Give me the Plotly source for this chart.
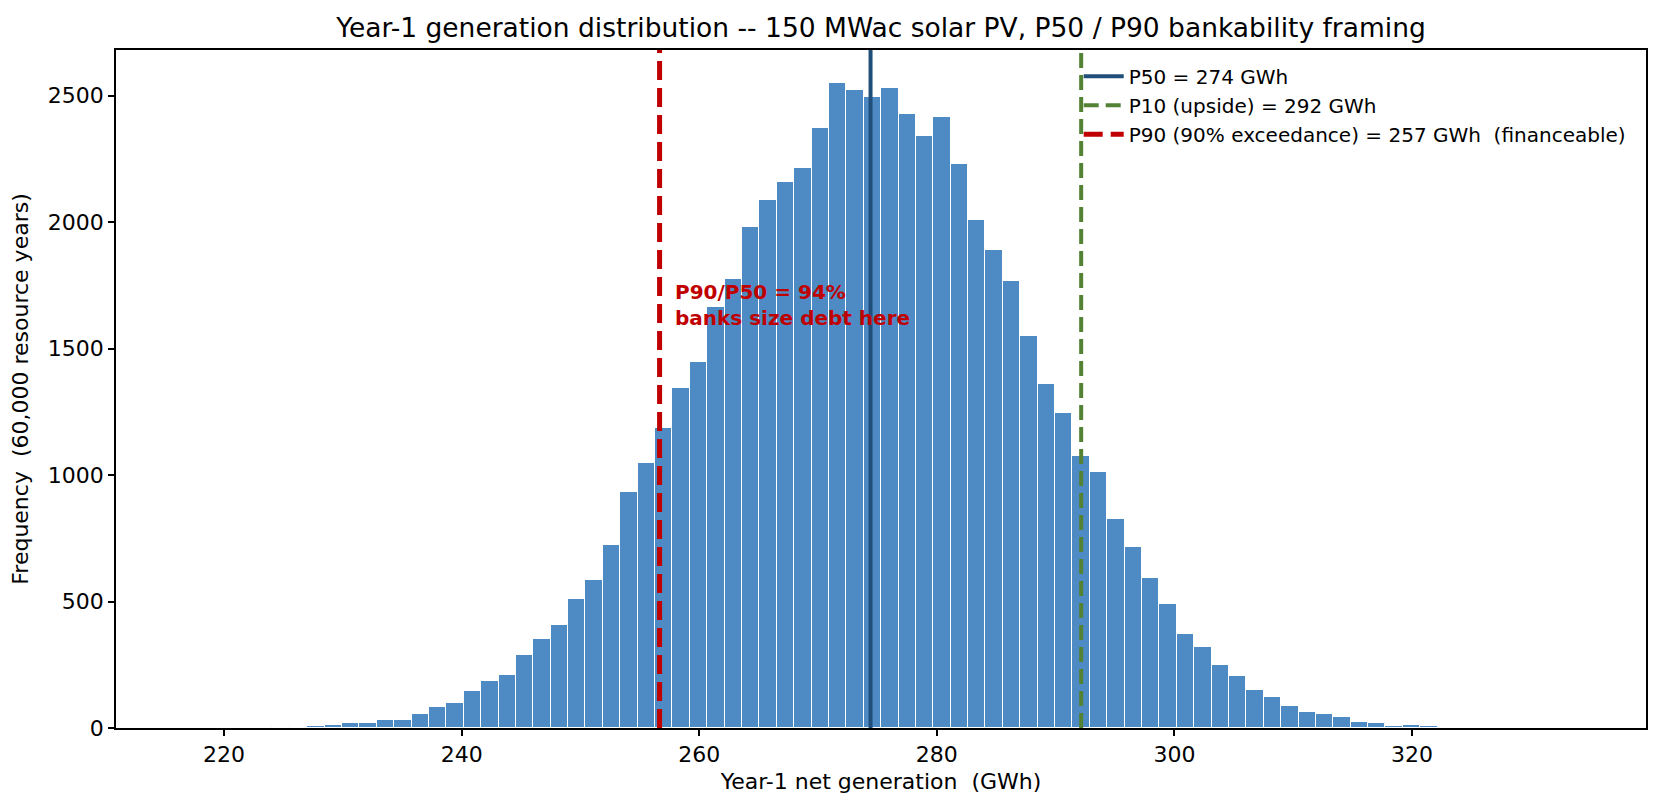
import numpy as np
import plotly.graph_objects as go

# histogram of year-1 net generation, 80 bins
bin_start = 216.75
bin_width = 1.464
counts = [1, 0, 0, 1, 1, 4, 2, 7, 10, 20,
          20, 30, 30, 55, 83, 98, 145, 185, 208, 288,
          350, 408, 508, 587, 722, 934, 1047, 1187, 1344, 1448,
          1665, 1776, 1981, 2086, 2157, 2212, 2372, 2549, 2521, 2493,
          2528, 2427, 2341, 2416, 2230, 2008, 1888, 1766, 1549, 1360,
          1246, 1077, 1013, 828, 717, 591, 489, 370, 319, 248,
          207, 152, 122, 86, 63, 54, 42, 22, 19, 6,
          10, 6, 2, 1, 1, 0, 0, 1, 0, 1]

p50 = 274.42
p10 = 292.15
p90 = 256.66

x_range = [210.9, 339.7]
y_top = 2680

centers = bin_start + bin_width * (np.arange(len(counts)) + 0.5)

fig = go.Figure()
fig.add_trace(go.Bar(x=centers, y=counts, width=bin_width,
                     marker=dict(color="#4e8bc4", line=dict(color="white", width=1)),
                     showlegend=False, hoverinfo="x+y"))

fig.add_trace(go.Scatter(x=[p50, p50], y=[0, y_top], mode="lines",
                         line=dict(color="#1f4e79", width=4),
                         name=f"P50 = {p50:.0f} GWh"))
fig.add_trace(go.Scatter(x=[p10, p10], y=[0, y_top], mode="lines",
                         line=dict(color="#548235", width=4, dash="15px,7px"),
                         name=f"P10 (upside) = {p10:.0f} GWh"))
fig.add_trace(go.Scatter(x=[p90, p90], y=[0, y_top], mode="lines",
                         line=dict(color="#c00000", width=5, dash="19px,8px"),
                         name=f"P90 (90% exceedance) = {p90:.0f} GWh \u00a0(financeable)"))

fig.add_annotation(x=p90 + 1.1, y=1674, xanchor="left", yanchor="middle",
                   text=f"<b>P90/P50 = {p90 / p50 * 100:.0f}%<br>banks size debt here</b>",
                   showarrow=False, align="left",
                   font=dict(color="#c00000", size=20))

axis_style = dict(showline=True, linecolor="black", linewidth=1.5, mirror=True,
                  ticks="outside", ticklen=6, tickwidth=1.5, tickcolor="black",
                  showgrid=False, zeroline=False, automargin=False,
                  tickfont=dict(size=22, color="black"))

fig.update_xaxes(range=x_range, tickvals=[220, 240, 260, 280, 300, 320],
                 title=dict(text="Year-1 net generation \u00a0(GWh)", font=dict(size=22), standoff=7),
                 **axis_style)
fig.update_yaxes(range=[0, y_top], tickvals=[0, 500, 1000, 1500, 2000, 2500],
                 title=dict(text="Frequency \u00a0(60,000 resource years)", font=dict(size=22), standoff=28),
                 **axis_style)

fig.update_layout(
    width=1662, height=808,
    margin=dict(l=108, r=24, t=42, b=88),
    paper_bgcolor="white", plot_bgcolor="white",
    font=dict(family="DejaVu Sans", color="black"),
    bargap=0,
    title=dict(text="Year-1 generation distribution -- 150 MWac solar PV, P50 / P90 bankability framing",
               x=0.5, xref="paper", xanchor="center", y=0.975, yref="container", yanchor="middle",
               font=dict(size=26.5)),
    legend=dict(x=0.99, y=0.99, xanchor="right", yanchor="top",
                bgcolor="rgba(255,255,255,0)", font=dict(size=20),
                itemwidth=40),
)

fig.write_html("out.html")
